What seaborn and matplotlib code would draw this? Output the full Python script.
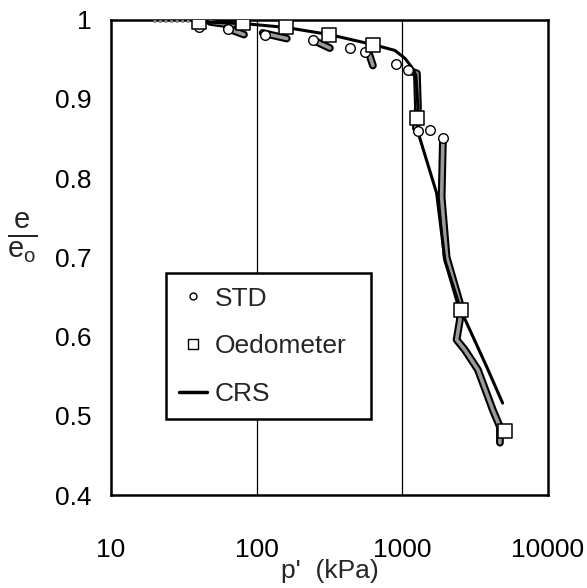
import numpy as np
import pandas as pd
import matplotlib
matplotlib.use("Agg")
import matplotlib.pyplot as plt
import matplotlib.patheffects as pe
from matplotlib.lines import Line2D
from matplotlib.ticker import FixedLocator, FixedFormatter, NullLocator
import seaborn as sns

# ---------------- data ----------------
# Oedometer (open squares)
oed_p = [40, 80, 158, 315, 631, 1265, 2524, 5060]
oed_e = [0.997, 0.995, 0.990, 0.981, 0.968, 0.876, 0.633, 0.481]

# STD (open circles, start of each load step)
std_p = [40, 63.5, 114, 243, 437, 553, 903, 1092, 1280, 1546, 1901]
std_e = [0.991, 0.988, 0.981, 0.974, 0.964, 0.959, 0.944, 0.936, 0.859, 0.860, 0.850]

# faint start of the record at very low pressure
start_p = [19.4, 36]
start_e = [0.998, 0.998]

# STD dense readings (grey bands), one list per band
band2_p = [47.8, 68.7]
band2_e = [0.997, 0.993]
band3_p = [62.5, 81.8]
band3_e = [0.989, 0.981]
band4_p = [110, 161]
band4_e = [0.983, 0.976]
band5_p = [243, 318]
band5_e = [0.974, 0.964]
band6_p = [581, 628]
band6_e = [0.961, 0.942]
band7_p = [1092, 1259, 1280, 1239]
band7_e = [0.936, 0.932, 0.889, 0.863]
band8_p = [1900, 1861, 2014, 2485, 2485, 2358, 2690, 3303, 4186, 4677, 4677]
band8_e = [0.848, 0.776, 0.700, 0.642, 0.621, 0.596, 0.583, 0.558, 0.507, 0.486, 0.466]

# CRS (solid line)
crs_p = [36, 40, 80, 158, 315, 640, 889, 1042, 1158, 1240, 1280, 1259, 1280, 1719, 1961, 2525, 3790, 4880]
crs_e = [0.998, 0.997, 0.995, 0.990, 0.981, 0.968, 0.961, 0.951, 0.940, 0.930, 0.889, 0.877, 0.858, 0.781, 0.696, 0.633, 0.562, 0.516]

x_ticks = [10, 100, 1000, 10000]
x_ticklabels = ["10", "100", "1000", "10000"]
y_ticks = [0.4, 0.5, 0.6, 0.7, 0.8, 0.9, 1.0]
y_ticklabels = ["0.4", "0.5", "0.6", "0.7", "0.8", "0.9", "1"]

legend_labels = ["STD", "Oedometer", "CRS"]

# ---------------- styling ----------------
sns.set_style("white")
plt.rcParams["font.family"] = ["Liberation Sans", "DejaVu Sans"]
plt.rcParams["mathtext.fontset"] = "custom"
plt.rcParams["mathtext.rm"] = "Liberation Sans"
plt.rcParams["mathtext.it"] = "Liberation Sans"

FS = 19

fig = plt.figure(figsize=(5.87, 5.88), dpi=100)
ax = fig.add_axes([111 / 587, 1 - 495 / 588, 437 / 587, 475.5 / 588])

# faint low-pressure start
sns.lineplot(x=start_p, y=start_e, sort=False, estimator=None, ax=ax, color="#8a8a8a",
             linewidth=2.0, linestyle=(0, (1, 1)), zorder=3)

# grey bands (dense STD readings)
bands = [(band2_p, band2_e), (band3_p, band3_e), (band4_p, band4_e),
         (band5_p, band5_e), (band6_p, band6_e), (band7_p, band7_e), (band8_p, band8_e)]
for bp, be in bands:
    n0 = len(ax.lines)
    sns.lineplot(x=bp, y=be, sort=False, estimator=None, ax=ax, color="#9a9a9a",
                 linewidth=2.6, zorder=3)
    for ln in ax.lines[n0:]:
        ln.set_path_effects([pe.Stroke(linewidth=5.6, foreground="black"), pe.Normal()])
        ln.set_solid_capstyle("round")

# CRS line
sns.lineplot(x=crs_p, y=crs_e, sort=False, estimator=None, ax=ax, color="black",
             linewidth=2.2, zorder=4)

# STD circles
sns.scatterplot(x=std_p, y=std_e, ax=ax, marker="o", s=48, facecolor="white",
                edgecolor="black", linewidth=1.0, zorder=5)

# Oedometer squares
sns.scatterplot(x=oed_p, y=oed_e, ax=ax, marker="s", s=95, facecolor="white",
                edgecolor="black", linewidth=1.1, zorder=6)

ax.set_xscale("log")
ax.set_xlim(10, 10000)
ax.set_ylim(0.4, 1.0)

ax.xaxis.set_major_locator(FixedLocator(x_ticks))
ax.xaxis.set_major_formatter(FixedFormatter(x_ticklabels))
ax.xaxis.set_minor_locator(NullLocator())
ax.yaxis.set_major_locator(FixedLocator(y_ticks))
ax.yaxis.set_major_formatter(FixedFormatter(y_ticklabels))

ax.tick_params(axis="both", length=0, labelsize=FS, colors="black")
ax.tick_params(axis="x", pad=31)
ax.tick_params(axis="y", pad=14)

# vertical grid lines at 100 and 1000
for gx in x_ticks[1:3]:
    ax.axvline(gx, color="black", linewidth=0.9, zorder=1)

for sp in ax.spines.values():
    sp.set_color("black")
    sp.set_linewidth(1.8)
    sp.set_visible(True)

ax.set_xlabel("p'  (kPa)", fontsize=FS, labelpad=-2)
ax.set_ylabel(r"$\frac{\mathrm{e}}{\mathrm{e}_\mathrm{o}}$", fontsize=30, rotation=0,
              va="center", ha="center")
ax.yaxis.set_label_coords(-0.203, 0.54)

handles = [
    Line2D([], [], marker="o", linestyle="none", markerfacecolor="white",
           markeredgecolor="black", markersize=5, markeredgewidth=1.0),
    Line2D([], [], marker="s", linestyle="none", markerfacecolor="white",
           markeredgecolor="black", markersize=7.5, markeredgewidth=1.0),
    Line2D([], [], color="black", linewidth=2.5),
]
leg = ax.legend(handles, legend_labels, loc="upper left",
                bbox_to_anchor=(0.126, 0.155, 0.469, 0.311), mode="expand",
                fontsize=FS, frameon=True, fancybox=False, framealpha=1,
                edgecolor="black", borderpad=0.5, labelspacing=0.9,
                handlelength=1.05, handletextpad=0.3, borderaxespad=0)
leg.get_frame().set_linewidth(1.8)
leg.set_zorder(10)

fig.savefig("out.png", dpi=100)
